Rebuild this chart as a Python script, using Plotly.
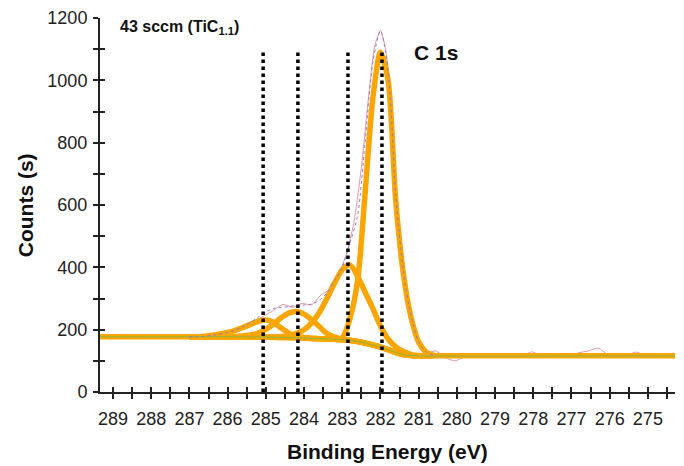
import plotly.graph_objects as go

# ---------------- data ----------------
# common energy grid for fitted components (eV)
grid_ev = [287.0, 286.8, 286.6, 286.4, 286.2, 286.0, 285.8, 285.6, 285.4, 285.2,
           285.0, 284.8, 284.6, 284.4, 284.2, 284.0, 283.8, 283.6, 283.4, 283.2,
           283.0, 282.8, 282.6, 282.4, 282.2, 282.0, 281.8, 281.6, 281.4, 281.2,
           281.0, 280.8, 280.6]

background = [177, 177, 177, 177, 177, 177, 177, 177, 176.5, 176,
              176, 175.5, 175, 174.5, 174, 173, 172, 171, 170, 169,
              168, 166, 162, 157, 151, 144, 136, 127, 120, 117,
              116, 116, 116]

peak_285 = [177, 177, 179, 182, 186, 191, 198, 207, 217, 227,
            231, 224, 205, 189, 180, 175, 172, 171, 170, 169,
            168, 166, 162, 157, 151, 144, 136, 127, 120, 117,
            116, 116, 116]

peak_284 = [177, 177, 177, 177, 177, 177, 178, 180, 183, 189,
            201, 218, 238, 253, 258, 250, 232, 210, 188, 176,
            170, 166, 162, 157, 151, 144, 136, 127, 120, 117,
            116, 116, 116]

peak_283 = [177, 177, 177, 177, 177, 177, 177, 177, 176.5, 176,
            177, 177, 178, 181, 188, 200, 222, 255, 300, 350,
            392, 408, 372, 320, 268, 212, 170, 145, 130, 121,
            117, 116, 116]

peak_282 = [177, 177, 177, 177, 177, 177, 177, 177, 176.5, 176,
            176, 175.5, 175, 174.5, 174, 173, 172, 171, 170, 169,
            174, 235, 355, 640, 940, 1090, 1000, 615, 380, 240,
            160, 128, 118]

envelope = [177, 177, 179, 182, 186, 191, 199, 210, 223, 240,
            257, 268, 271, 274, 278, 279, 282, 294, 318, 357,
            400, 477, 565, 803, 1057, 1158, 1034, 633, 390, 244,
            161, 128, 118]

# background extended over the whole scan
bg_full_ev = [289.34, 287.0, 286.0, 285.0, 284.0, 283.0, 282.6, 282.2, 282.0,
              281.8, 281.6, 281.4, 281.2, 281.0, 274.29]
bg_full_counts = [177, 177, 177, 176, 173, 168, 162, 151, 144,
                  136, 127, 120, 117, 116, 116]

# measured spectrum
raw_ev = [289.3, 289.05, 288.8, 288.55, 288.3, 288.05, 287.8, 287.55, 287.3, 287.05,
          286.8, 286.55, 286.3, 286.05, 285.8, 285.55, 285.3, 285.05, 284.8, 284.55,
          284.3, 284.05, 283.8, 283.55, 283.3, 283.1, 282.9, 282.7, 282.5, 282.3,
          282.15, 282.0, 281.85, 281.7, 281.55, 281.4, 281.25, 281.1, 280.95, 280.8,
          280.55, 280.3, 280.05, 279.8, 279.55, 279.3, 279.05, 278.8, 278.55, 278.3,
          278.05, 277.8, 277.55, 277.3, 277.05, 276.8, 276.55, 276.3, 276.05, 275.8,
          275.55, 275.3, 275.05, 274.8, 274.55, 274.3]
raw_counts = [182, 170, 180, 172, 181, 175, 177, 176, 183, 174,
              176, 168, 185, 192, 196, 212, 228, 244, 262, 281,
              272, 284, 280, 312, 330, 375, 440, 540, 720, 960,
              1110, 1160, 1090, 880, 610, 400, 265, 190, 148, 125,
              132, 110, 100, 112, 117, 115, 118, 116, 121, 114,
              129, 118, 116, 122, 117, 126, 132, 141, 120, 115,
              119, 128, 117, 122, 115, 118]

# reference peak positions (dotted lines)
ref_lines_ev = [285.07, 284.16, 282.85, 281.96]
ref_line_top = 1095

x_tick_vals = [289, 288.5, 288, 287.5, 287, 286.5, 286, 285.5, 285, 284.5, 284, 283.5,
               283, 282.5, 282, 281.5, 281, 280.5, 280, 279.5, 279, 278.5, 278,
               277.5, 277, 276.5, 276, 275.5, 275, 274.5]
x_tick_text = ["289", "", "288", "", "287", "", "286", "", "285", "", "284", "",
               "283", "", "282", "", "281", "", "280", "", "279", "", "278", "",
               "277", "", "276", "", "275", ""]
y_tick_vals = [0, 100, 200, 300, 400, 500, 600, 700, 800, 900, 1000, 1100, 1200]
y_tick_text = ["0", "", "200", "", "400", "", "600", "", "800", "", "1000", "", "1200"]

ORANGE = "#FBA600"
FONT = "Liberation Sans, Arial, Helvetica, sans-serif"

fig = go.Figure()

# raw spectrum
fig.add_trace(go.Scatter(x=raw_ev, y=raw_counts, mode="lines",
                         line=dict(color="#e58a9a", width=0.9, shape="spline", smoothing=0.6),
                         hoverinfo="skip", showlegend=False))

# background
fig.add_trace(go.Scatter(x=bg_full_ev, y=bg_full_counts, mode="lines",
                         line=dict(color=ORANGE, width=5.5, shape="spline", smoothing=0.8),
                         hoverinfo="skip", showlegend=False))

for comp in [peak_285, peak_284, peak_283, peak_282]:
    fig.add_trace(go.Scatter(x=grid_ev, y=comp, mode="lines",
                             line=dict(color=ORANGE, width=5.5, shape="spline", smoothing=0.8),
                             hoverinfo="skip", showlegend=False))

fig.add_trace(go.Scatter(x=bg_full_ev, y=bg_full_counts, mode="lines",
                         line=dict(color="#86b83c", width=1, shape="spline", smoothing=0.8),
                         hoverinfo="skip", showlegend=False))

# fitted envelope
fig.add_trace(go.Scatter(x=grid_ev, y=envelope, mode="lines",
                         line=dict(color="#8a7cc8", width=1, dash="dot", shape="spline", smoothing=0.8),
                         hoverinfo="skip", showlegend=False))

# reference dotted lines
for xv in ref_lines_ev:
    fig.add_trace(go.Scatter(x=[xv, xv], y=[0, ref_line_top], mode="lines",
                             line=dict(color="black", width=3.5, dash="dot"),
                             hoverinfo="skip", showlegend=False))

# dummy trace for overlay axes (inside half of cross ticks)
fig.add_trace(go.Scatter(x=[None], y=[None], xaxis="x2", yaxis="y2",
                         hoverinfo="skip", showlegend=False))

x_range = [289.34, 274.29]
y_range = [0, 1200]
tickfont = dict(family=FONT, size=18, color="#222")

fig.update_layout(
    width=684, height=466,
    margin=dict(l=100, r=9, t=18, b=74),
    plot_bgcolor="white", paper_bgcolor="white",
    xaxis=dict(range=x_range, tickmode="array", tickvals=x_tick_vals, ticktext=x_tick_text,
               ticks="outside", ticklen=5, tickwidth=1.5, tickcolor="#222",
               showline=True, linecolor="#222", linewidth=2, showgrid=False, zeroline=False,
               tickfont=tickfont, ticklabelstandoff=4),
    yaxis=dict(range=y_range, tickmode="array", tickvals=y_tick_vals, ticktext=y_tick_text,
               ticks="outside", ticklen=5, tickwidth=1.5, tickcolor="#222",
               showline=True, linecolor="#222", linewidth=2, showgrid=False, zeroline=False,
               tickfont=tickfont, ticklabelstandoff=2),
    xaxis2=dict(range=x_range, overlaying="x", anchor="y", side="bottom",
                tickmode="array", tickvals=x_tick_vals, showticklabels=False,
                ticks="inside", ticklen=5, tickwidth=1.5, tickcolor="#222",
                showline=False, showgrid=False, zeroline=False),
    yaxis2=dict(range=y_range, overlaying="y", anchor="x", side="left",
                tickmode="array", tickvals=y_tick_vals, showticklabels=False,
                ticks="inside", ticklen=5, tickwidth=1.5, tickcolor="#222",
                showline=False, showgrid=False, zeroline=False),
    annotations=[
        dict(text="<b>43 sccm (TiC<sub>1.1</sub>)</b>", x=0.031, y=0.975, xref="paper", yref="paper",
             xanchor="left", yanchor="middle", showarrow=False,
             font=dict(family=FONT, size=16, color="#111")),
        dict(text="<b>C 1s</b>", x=281.17, y=1088, xref="x", yref="y",
             xanchor="left", yanchor="middle", showarrow=False,
             font=dict(family=FONT, size=21, color="#111")),
        dict(text="<b>Binding Energy (eV)</b>", x=0.5, y=-0.158, xref="paper", yref="paper",
             xanchor="center", yanchor="middle", showarrow=False,
             font=dict(family=FONT, size=21, color="#111")),
        dict(text="<b>Counts (s)</b>", x=-0.13, y=0.5, xref="paper", yref="paper",
             xanchor="center", yanchor="middle", showarrow=False, textangle=-90,
             font=dict(family=FONT, size=21, color="#111")),
    ],
)

fig.write_html("out.html")
